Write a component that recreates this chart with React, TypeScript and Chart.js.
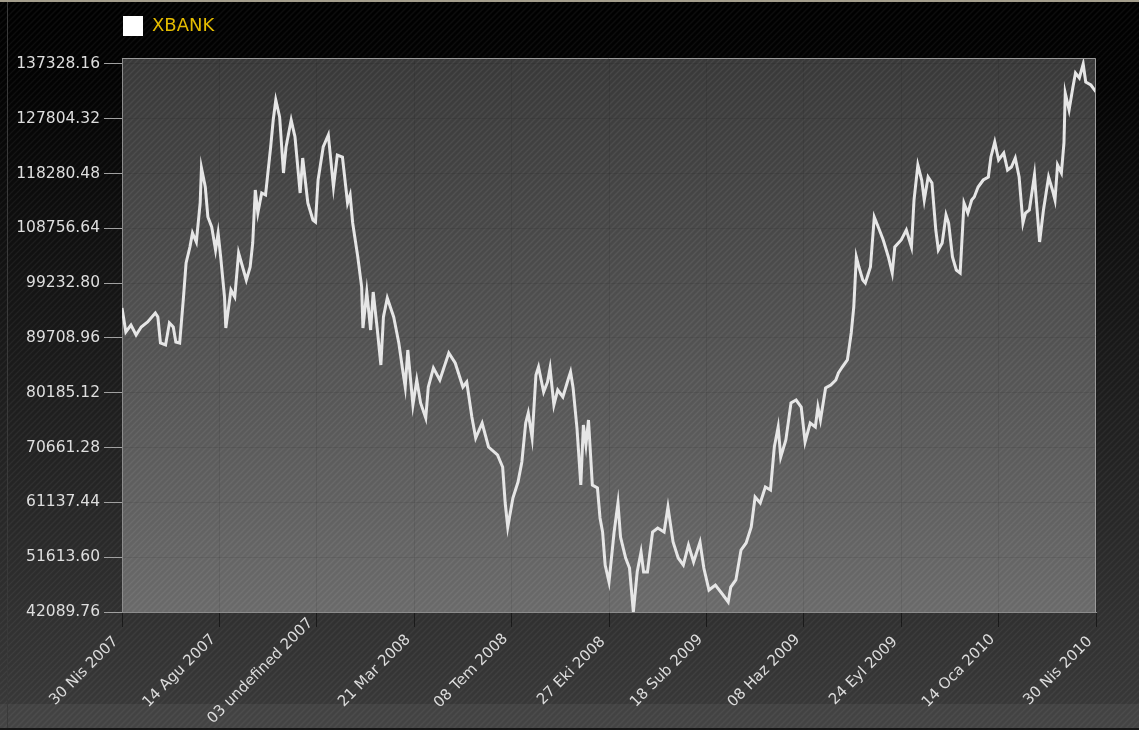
import React, { useEffect, useRef } from 'react';
import { Chart, registerables } from 'chart.js';

Chart.register(...registerables);

const SERIES_NAME = 'XBANK';

const X_TICK_LABELS = [
  '30 Nis 2007',
  '14 Agu 2007',
  '03 undefined 2007',
  '21 Mar 2008',
  '08 Tem 2008',
  '27 Eki 2008',
  '18 Sub 2009',
  '08 Haz 2009',
  '24 Eyl 2009',
  '14 Oca 2010',
  '30 Nis 2010',
];

const LAST_INDEX = 760;

// y tick values run from Y_MIN to Y_TOP_TICK in steps of Y_STEP; the axis itself ends at Y_AXIS_MAX
const Y_MIN = 42089.76;
const Y_TOP_TICK = 137328.16;
const Y_STEP = 9523.84;
const Y_AXIS_MAX = 138370;

const DAY_INDEX = [
  0, 3, 7, 11, 15, 20, 26, 28, 30, 34, 37, 40, 42, 45, 48, 50, 53, 55, 58, 61,
  62, 65, 67, 70, 73, 75, 77, 80, 81, 85, 88, 91, 93, 97, 100, 102, 104, 106, 109, 112,
  116, 118, 120, 123, 126, 128, 132, 135, 139, 141, 145, 149, 151, 153, 157, 161, 165, 168, 172, 176,
  178, 180, 184, 187, 188, 191, 194, 196, 199, 202, 204, 207, 212, 216, 219, 221, 223, 227, 230, 233,
  237, 239, 243, 248, 255, 260, 266, 269, 273, 276, 281, 286, 293, 297, 299, 301, 305, 309, 312, 315,
  317, 320, 323, 325, 329, 332, 334, 337, 340, 344, 348, 350, 352, 355, 358, 360, 362, 364, 367, 371,
  373, 375, 377, 380, 384, 387, 389, 393, 396, 399, 402, 405, 407, 410, 414, 418, 423, 426, 430, 434,
  438, 442, 446, 451, 454, 458, 463, 469, 473, 475, 479, 483, 487, 491, 494, 498, 502, 506, 509, 512,
  514, 518, 522, 526, 530, 533, 537, 541, 543, 545, 549, 553, 557, 559, 562, 566, 569, 571, 573, 575,
  578, 580, 584, 587, 591, 594, 598, 601, 603, 608, 612, 616, 618, 621, 624, 626, 629, 632, 635, 637,
  640, 643, 645, 648, 651, 654, 657, 660, 663, 665, 668, 672, 676, 678, 681, 684, 688, 691, 694, 697,
  700, 703, 705, 708, 712, 713, 716, 719, 723, 726, 728, 730, 733, 735, 736, 739, 742, 744, 747, 750,
  752, 756, 760,
];

const PRICES = [
  94922, 90752, 91968, 90230, 91620, 92489, 94053, 93358, 88840, 88492, 92316, 91620, 89014, 88840, 96834, 102742, 105523, 107957, 106393, 113170,
  119253, 115951, 110737, 108999, 105002, 107957, 103786, 96834, 91446, 98051, 96834, 104481, 102916, 99788, 102048, 106219, 115430, 111432, 114908, 114560,
  122903, 127595, 131071, 128116, 118384, 122903, 127595, 124640, 114908, 120991, 113170, 110216, 109868, 117167, 122903, 124988, 115951, 121512, 121165, 113170,
  114560, 109695, 103786, 98572, 91446, 97703, 91098, 97703, 91620, 85017, 93358, 96661, 93358, 88840, 84147, 81193, 87623, 78064, 82409, 78412,
  75805, 81193, 84495, 82409, 87102, 85363, 81193, 82062, 75979, 72329, 74936, 70765, 69375, 67290, 61033, 56862, 61902, 64682, 68158, 74936,
  76674, 72329, 83279, 84669, 80324, 82062, 84495, 78064, 80672, 79455, 82409, 83800, 81019, 74067, 64161, 74589, 71113, 75458, 64161, 63640,
  58426, 55993, 50258, 47303, 55993, 61033, 55124, 51475, 49737, 42089.76, 49041, 52517, 49041, 49041, 55993, 56688, 55993, 60337, 54255, 51475,
  50258, 53734, 50779, 54255, 49737, 45913, 46782, 45044, 43828, 46435, 47651, 52865, 54082, 56862, 62076, 61033, 63814, 63292, 70765, 74241,
  69029, 71981, 78412, 78934, 77717, 71635, 74936, 74241, 77717, 75458, 81019, 81540, 82409, 83625, 84669, 85886, 90578, 95096, 103786, 102048,
  99788, 99267, 102048, 110737, 108477, 106740, 103786, 101005, 105523, 106740, 108477, 105523, 113692, 119775, 117167, 113692, 117689, 116646, 108477, 105002,
  106219, 111085, 109695, 103786, 101526, 101005, 113170, 111432, 113692, 114213, 115951, 117167, 117689, 121165, 123772, 120643, 121860, 118905, 119427, 120991,
  117689, 109695, 111432, 111954, 118037, 114908, 106393, 111954, 117689, 115430, 113692, 119775, 118384, 123598, 132287, 129333, 133330, 135763, 134894, 137328.16,
  134199, 133677, 132478,
];

function drawHatch(ctx: CanvasRenderingContext2D, x: number, y: number, w: number, h: number, color: string) {
  ctx.save();
  ctx.beginPath();
  ctx.rect(x, y, w, h);
  ctx.clip();
  ctx.strokeStyle = color;
  ctx.lineWidth = 1.5;
  ctx.beginPath();
  for (let k = x - h; k < x + w + h; k += 6) {
    ctx.moveTo(k, y + h);
    ctx.lineTo(k + h, y);
  }
  ctx.stroke();
  ctx.restore();
}

const backgroundPlugin = {
  id: 'bgPlugin',
  beforeDraw(chart: any) {
    const { ctx, width, height, chartArea: ca } = chart;
    ctx.save();
    const g = ctx.createLinearGradient(0, 0, 0, height);
    g.addColorStop(0, '#000000');
    g.addColorStop(0.12, '#030303');
    g.addColorStop(1, '#3a3a3a');
    ctx.fillStyle = g;
    ctx.fillRect(0, 0, width, height);
    ctx.fillStyle = 'rgba(255,255,255,0.05)';
    ctx.fillRect(0, height - 26, width, 24);
    drawHatch(ctx, 0, 0, width, height, 'rgba(255,255,255,0.05)');

    const pg = ctx.createLinearGradient(0, ca.top, 0, ca.bottom);
    pg.addColorStop(0, '#393939');
    pg.addColorStop(1, '#6a6a6a');
    ctx.fillStyle = pg;
    ctx.fillRect(ca.left, ca.top, ca.right - ca.left, ca.bottom - ca.top);
    drawHatch(ctx, ca.left, ca.top, ca.right - ca.left, ca.bottom - ca.top, 'rgba(255,255,255,0.065)');

    ctx.fillStyle = '#a49e8c';
    ctx.fillRect(0, 0, width, 2);
    ctx.fillStyle = '#3a3a3a';
    ctx.fillRect(7, 2, 1, height);
    ctx.fillStyle = '#161616';
    ctx.fillRect(0, height - 2, width, 2);
    ctx.restore();
  },
  afterDraw(chart: any) {
    const { ctx, chartArea: ca } = chart;
    ctx.save();
    ctx.strokeStyle = '#9a9a9a';
    ctx.lineWidth = 1;
    ctx.beginPath();
    ctx.moveTo(ca.left, ca.top + 0.5);
    ctx.lineTo(ca.right - 0.5, ca.top + 0.5);
    ctx.lineTo(ca.right - 0.5, ca.bottom);
    ctx.stroke();

    // x tick labels: rotated 45°, centred on a common line below the axis, ending just left of each tick
    const xs = chart.scales.x;
    const angle = Math.PI / 4;
    ctx.font = '15px "DejaVu Sans"';
    ctx.fillStyle = '#dcdcdc';
    ctx.textAlign = 'center';
    ctx.textBaseline = 'middle';
    X_TICK_LABELS.forEach((label, i) => {
      const px = xs.getPixelForValue((i * LAST_INDEX) / (X_TICK_LABELS.length - 1));
      const w = ctx.measureText(label).width;
      const cx = px - 6 - (w / 2) * Math.cos(angle);
      const cy = xs.top + 59;
      ctx.save();
      ctx.translate(cx, cy);
      ctx.rotate(-angle);
      ctx.fillText(label, 0, 0);
      ctx.restore();
    });
    ctx.restore();
  },
};

const legendGapPlugin = {
  id: 'legendGap',
  afterInit(chart: any) {
    const lg = chart.legend;
    if (!lg) return;
    const fit = lg.fit.bind(lg);
    lg.fit = () => {
      fit();
      lg.height += 12;
    };
  },
};

export default function App() {
  const ref = useRef<HTMLCanvasElement>(null);

  useEffect(() => {
    document.body.style.margin = '0';
    const canvas = ref.current;
    if (!canvas) return;
    const points = DAY_INDEX.map((d, i) => ({ x: d, y: PRICES[i] }));
    const chart = new Chart(canvas, {
      type: 'line',
      data: {
        datasets: [
          {
            label: SERIES_NAME,
            data: points,
            borderColor: '#e6e6e6',
            backgroundColor: '#ffffff',
            borderWidth: 3,
            pointRadius: 0,
            tension: 0,
            fill: false,
          },
        ],
      },
      options: {
        animation: false,
        responsive: true,
        maintainAspectRatio: false,
        parsing: false,
        layout: { padding: { top: 15, left: 0, right: 43, bottom: 0 } },
        font: { family: 'DejaVu Sans' },
        plugins: {
          tooltip: { enabled: false },
          legend: {
            display: true,
            position: 'top',
            align: 'start',
            fullSize: false,
            labels: {
              boxWidth: 20,
              boxHeight: 20,
              padding: 1,
              color: '#e4bc00',
              font: { family: 'DejaVu Sans', size: 18 },
              generateLabels: (c: any) =>
                Chart.defaults.plugins.legend.labels
                  .generateLabels(c)
                  .map((l: any) => ({ ...l, lineWidth: 0, fillStyle: '#ffffff' })),
            },
          },
        },
        scales: {
          x: {
            type: 'linear',
            min: 0,
            max: LAST_INDEX,
            afterBuildTicks: (scale: any) => {
              scale.ticks = X_TICK_LABELS.map((_, i) => ({
                value: (i * LAST_INDEX) / (X_TICK_LABELS.length - 1),
              }));
            },
            afterFit: (scale: any) => {
              scale.height = 118;
            },
            ticks: {
              display: false,
              autoSkip: false,
              callback: (_v: any, i: number) => X_TICK_LABELS[i],
            },
            grid: {
              color: 'rgba(0,0,0,0.08)',
              tickColor: '#1a1a1a',
              tickLength: 15,
              lineWidth: 1,
            },
            border: { display: true, color: '#8c8c8c', width: 1 },
          },
          y: {
            type: 'linear',
            min: Y_MIN,
            max: Y_AXIS_MAX,
            afterBuildTicks: (scale: any) => {
              const n = Math.round((Y_TOP_TICK - Y_MIN) / Y_STEP);
              scale.ticks = Array.from({ length: n + 1 }, (_, i) => ({ value: Y_MIN + i * Y_STEP }));
            },
            afterFit: (scale: any) => {
              scale.width = 122;
            },
            ticks: {
              padding: 4,
              color: '#dedede',
              font: { family: 'DejaVu Sans', size: 15.5 },
              callback: (v: any) => Number(v).toFixed(2),
            },
            grid: {
              color: 'rgba(0,0,0,0.08)',
              tickColor: '#a0a0a0',
              tickLength: 18,
              lineWidth: 1,
            },
            border: { display: true, color: '#8c8c8c', width: 1 },
          },
        },
      },
      plugins: [backgroundPlugin, legendGapPlugin],
    } as any);
    return () => chart.destroy();
  }, []);

  return (
    <div style={{ width: 1139, height: 730, position: 'relative' }}>
      <canvas ref={ref} />
    </div>
  );
}
